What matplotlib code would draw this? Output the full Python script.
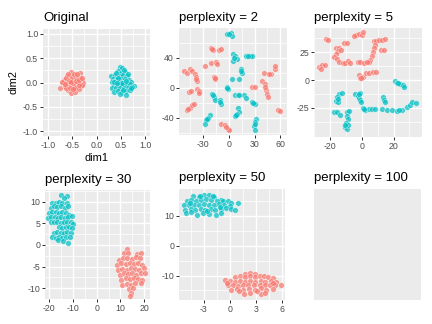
import matplotlib
matplotlib.use("Agg")
import matplotlib.pyplot as plt

plt.rcParams['font.family'] = ['Liberation Sans', 'DejaVu Sans']

RED = '#F8766D'
TEAL = '#00BFC4'

# ---- data: (x, y) embeddings for each class ----
orig_red = [(-0.76,-0.12),(-0.53,0.21),(-0.33,0.19),(-0.60,0.14),(-0.45,0.15),(-0.38,0.12),(-0.66,0.06),
            (-0.55,0.07),(-0.48,0.05),(-0.40,0.06),(-0.30,0.04),(-0.27,-0.01),(-0.68,-0.02),(-0.60,0.00),
            (-0.52,-0.01),(-0.44,0.00),(-0.36,-0.02),(-0.64,-0.08),(-0.56,-0.07),(-0.48,-0.08),(-0.40,-0.09),
            (-0.32,-0.08),(-0.58,-0.15),(-0.50,-0.16),(-0.42,-0.14),(-0.35,-0.14),(-0.53,-0.21),(-0.45,-0.20),
            (-0.62,0.10),(-0.50,0.12),(-0.42,0.09),(-0.34,0.10),(-0.57,0.03),(-0.46,-0.04),(-0.38,0.02),
            (-0.30,-0.05),(-0.70,0.02),(-0.62,-0.12),(-0.55,-0.11),(-0.44,-0.11),(-0.37,-0.06),(-0.47,0.18),
            (-0.58,0.18),(-0.40,0.17),(-0.52,0.02),(-0.43,0.04),(-0.65,-0.04),(-0.35,0.05),(-0.48,-0.13),
            (-0.29,0.09)]
orig_teal = [(0.48,0.31),(0.53,0.29),(0.44,0.24),(0.58,0.22),(0.50,0.20),(0.30,0.14),(0.38,0.15),(0.46,0.14),
             (0.55,0.15),(0.62,0.13),(0.34,0.08),(0.42,0.07),(0.50,0.08),(0.58,0.07),(0.66,0.06),(0.31,0.02),
             (0.39,0.01),(0.47,0.01),(0.55,0.00),(0.63,-0.01),(0.71,0.01),(0.36,-0.05),(0.44,-0.06),(0.52,-0.05),
             (0.60,-0.06),(0.68,-0.04),(0.78,-0.07),(0.31,-0.12),(0.40,-0.11),(0.48,-0.12),(0.56,-0.12),
             (0.64,-0.11),(0.72,-0.10),(0.37,-0.19),(0.45,-0.18),(0.53,-0.19),(0.61,-0.18),(0.68,-0.16),
             (0.60,-0.26),(0.49,-0.23),(0.41,0.20),(0.35,0.02),(0.57,0.26),(0.65,0.18),(0.52,-0.01),(0.45,0.10),
             (0.60,0.03),(0.70,-0.12),(0.42,-0.02),(0.55,-0.15)]

p2_red = [(-21.4,53.8),(-18.7,51.1),(-11.7,51.1),(-9.0,52.0),(-28.4,28.9),(-21.4,33.3),(-15.6,34.7),
          (-13.6,31.6),(-17.5,14.7),(-15.9,12.4),(-53.0,22.7),(-49.1,20.0),(-45.2,24.9),(-43.3,22.2),
          (-39.4,19.1),(-38.2,14.7),(-37.4,9.3),(-46.7,-5.3),(-44.8,-4.0),(-37.4,-0.9),(-35.4,-4.0),
          (-34.6,-6.2),(-48.7,-29.8),(-46.0,-26.7),(-42.9,-23.1),(-41.3,-20.9),(-9.0,-47.6),(-5.1,-48.9),
          (-1.2,-54.2),(0.0,-56.4),(26.9,1.3),(30.8,1.3),(39.0,9.3),(41.7,5.8),(43.6,-3.1),(44.8,-7.6),
          (45.6,-12.0),(40.5,20.4),(49.5,19.1),(53.4,25.8),(54.2,28.9),(57.3,-29.8),(60.0,-30.7),
          (-20.0,52.5),(-16.5,13.5),(-47.5,-28.0),(-3.0,-51.5),(42.5,1.5),(47.0,18.5),(-38.0,12.0)]
p2_teal = [(-1.9,71.6),(1.9,73.3),(3.5,69.0),(4.7,44.9),(7.4,42.2),(9.4,38.2),(4.7,35.6),(20.3,42.2),
           (24.2,43.1),(26.9,43.1),(13.6,25.8),(15.2,20.4),(3.5,11.6),(11.7,12.4),(-2.3,1.3),(-1.2,-0.9),
           (7.4,-8.9),(10.5,-8.9),(17.1,-9.8),(20.3,-12.9),(26.9,-18.7),(30.0,-21.8),(-19.5,-7.6),
           (-17.9,-12.0),(-16.8,-16.4),(-10.9,-15.6),(-9.0,-21.8),(10.5,-26.2),(11.3,-32.0),(9.7,-35.0),
           (6.6,-37.8),(-22.6,-36.4),(-24.5,-39.6),(-26.5,-43.0),(-28.4,-47.6),(31.2,-40.9),(30.0,-45.3),
           (29.2,-51.1),(30.8,-55.6),(0.5,72.0),(6.0,40.5),(22.0,42.5),(14.5,23.0),(-1.8,0.2),(12.0,-9.2),
           (28.5,-20.0),(-18.5,-9.5),(-10.0,-18.5),(8.5,-36.5),(-25.5,-41.0),(30.5,-48.0)]

p5_red = [(-22.7,37.0),(-21.2,36.1),(-26.9,12.0),(-25.2,13.5),(-23.2,13.5),(-25.9,9.9),(-16.4,28.6),
          (-14.3,29.2),(-15.3,26.2),(-16.4,23.2),(-17.5,21.0),(-16.0,18.7),(-14.3,16.5),(-12.2,15.1),
          (-10.5,15.1),(-9.0,17.1),(-7.6,15.1),(-11.2,33.1),(-9.5,33.1),(-3.8,40.6),(-2.1,41.2),(0.0,40.6),
          (0.4,43.0),(-2.7,16.0),(-1.3,16.5),(1.5,15.1),(-2.1,4.5),(-1.3,1.5),(0.4,3.0),(2.5,6.0),(7.4,35.5),
          (9.0,34.9),(11.0,36.1),(12.6,36.4),(14.3,37.3),(8.4,31.9),(7.8,28.9),(6.7,25.3),(6.3,21.4),
          (5.3,18.4),(4.2,16.0),(12.0,27.0),(14.0,27.0),(4.2,6.3),(6.7,6.9),(8.8,6.9),(-5.0,40.0),
          (-13.0,27.5),(3.0,16.5),(-0.5,2.0)]
p5_teal = [(20.6,-0.6),(22.1,-2.7),(24.2,-3.6),(25.7,-4.8),(26.3,-6.6),(13.2,-15.6),(13.7,-17.7),
           (14.3,-19.8),(-4.2,-12.9),(-2.7,-14.2),(-1.0,-11.7),(-1.7,-16.0),(-1.3,-18.3),(-0.6,-20.1),
           (0.4,-25.3),(2.1,-26.8),(4.2,-26.2),(6.3,-25.9),(12.8,-26.4),(15.6,-27.1),(18.7,-27.1),
           (21.9,-27.7),(25.0,-27.1),(28.2,-24.6),(30.3,-22.6),(31.3,-19.6),(33.9,-20.5),(-14.7,-12.9),
           (-12.8,-12.0),(-15.6,-15.1),(-16.4,-19.0),(-15.3,-20.1),(-17.5,-29.2),(-16.0,-29.2),
           (-13.7,-31.6),(-9.7,-29.2),(-8.4,-28.0),(-9.7,-32.2),(-9.0,-35.2),(-10.1,-39.1),(-10.5,-42.1),
           (-9.7,-44.2),(-9.0,-40.5),(-11.0,-41.0),(23.0,-3.0),(-2.0,-13.0),(-15.0,-17.0),(23.5,-27.5),
           (1.0,-26.0),(8.0,-26.0)]

p30_red = [(12.6,-1.0),(11.5,-1.9),(13.2,-1.8),(17.1,-2.1),(18.5,-1.9),(9.4,-3.5),(11.2,-3.1),(12.9,-3.1),
           (15.0,-3.3),(16.4,-2.9),(18.3,-3.1),(8.7,-4.6),(10.4,-4.2),(12.2,-4.4),(14.0,-4.1),(15.7,-4.4),
           (17.4,-4.2),(19.2,-4.6),(9.0,-5.8),(10.8,-5.6),(12.6,-5.8),(14.3,-5.4),(16.0,-5.6),(17.8,-5.8),
           (19.9,-5.4),(9.8,-6.9),(11.5,-6.6),(13.2,-6.7),(15.0,-6.6),(16.8,-6.9),(18.5,-6.6),(20.2,-6.4),
           (10.4,-8.1),(12.2,-7.7),(14.0,-7.9),(15.7,-7.7),(17.4,-7.9),(19.2,-8.1),(10.8,-9.2),(12.6,-9.0),
           (14.3,-9.2),(16.0,-8.9),(18.5,-8.7),(13.6,-10.2),(15.4,-10.0),(14.6,-11.2),(14.0,-11.8)]
p30_teal = [(-14.9,11.6),(-12.7,11.2),(-13.8,10.8),(-18.7,9.6),(-17.3,9.8),(-15.9,10.0),(-14.5,9.6),
            (-12.7,9.8),(-19.4,8.5),(-18.0,8.9),(-16.6,8.7),(-15.2,8.9),(-13.5,8.5),(-12.1,9.0),(-20.1,7.3),
            (-18.7,7.5),(-17.3,7.7),(-15.9,7.3),(-14.5,7.7),(-13.1,7.3),(-11.7,6.9),(-20.5,6.2),(-19.1,6.4),
            (-17.7,6.5),(-16.3,6.2),(-14.9,6.5),(-13.5,6.2),(-12.1,6.4),(-10.3,6.7),(-19.4,5.4),(-18.0,5.2),
            (-16.6,5.4),(-15.2,5.0),(-13.8,5.4),(-12.4,5.2),(-10.7,5.4),(-9.9,4.8),(-15.9,4.1),(-14.5,3.8),
            (-13.1,4.2),(-11.7,4.1),(-10.3,3.8),(-18.0,2.8),(-16.9,3.1),(-15.2,2.7),(-13.8,2.8),(-12.4,3.1),
            (-11.0,2.8),(-18.7,1.9),(-17.3,1.5),(-15.9,1.8),(-14.5,1.5),(-13.1,1.9),(-11.3,1.8),(-16.3,1.2),
            (-14.1,0.8),(-12.1,0.5)]

p50_red = [(1.68,-9.5),(2.25,-9.2),(2.90,-9.5),(0.53,-10.6),(1.11,-10.3),(1.68,-10.6),(2.25,-10.3),
           (2.83,-10.6),(3.40,-10.0),(3.90,-10.3),(4.35,-10.6),(4.93,-10.9),(-0.61,-11.4),(-0.04,-11.7),
           (0.53,-12.0),(1.11,-11.7),(1.68,-12.0),(2.25,-11.7),(2.90,-12.0),(3.51,-11.7),(4.05,-12.0),
           (4.66,-11.7),(5.31,-12.0),(-0.23,-13.3),(0.34,-13.1),(0.92,-13.6),(1.49,-13.1),(2.06,-13.3),
           (2.75,-13.1),(3.40,-13.3),(3.97,-13.1),(4.55,-13.3),(5.19,-13.1),(5.81,-13.3),(0.15,-14.8),
           (0.84,-14.4),(1.49,-14.8),(2.14,-14.4),(2.83,-14.8),(3.51,-14.2),(4.16,-14.8),(4.93,-14.4),
           (1.60,-16.2),(2.25,-15.9),(3.59,-16.2),(4.05,-15.9),(1.0,-15.2),(3.1,-15.3),(-0.3,-12.5),
           (4.9,-12.6)]
p50_teal = [(-4.24,16.7),(-3.59,16.2),(-2.98,17.1),(-2.45,17.1),(-1.83,16.2),(-0.99,15.4),(-4.89,15.1),
            (-4.43,15.4),(-3.86,15.1),(-3.29,15.4),(-2.71,15.7),(-2.14,15.4),(-1.45,14.9),(-0.80,14.9),
            (-0.23,15.1),(0.15,14.3),(0.92,14.4),(-5.27,13.8),(-4.74,13.5),(-4.13,13.8),(-3.59,13.5),
            (-2.98,14.0),(-2.45,13.8),(-1.83,13.5),(-1.30,14.0),(-0.69,13.5),(-0.04,13.2),(-5.12,12.1),
            (-4.51,12.4),(-3.97,12.1),(-3.36,12.4),(-2.83,12.1),(-2.22,12.4),(-1.68,12.0),(-1.07,12.3),
            (-0.42,12.6),(0.15,12.4),(0.61,11.8),(-5.0,11.0),(-4.43,11.3),(-3.74,10.4),(-3.10,11.0),
            (-2.45,10.6),(-1.57,10.4),(-0.99,11.0),(-2.0,16.6),(-3.4,16.8),(-1.2,12.9),(-4.6,14.4),
            (-2.6,11.5)]

# ---- axis breaks ----
orig_breaks = [-1.0, -0.5, 0.0, 0.5, 1.0]
orig_labels = ['-1.0', '-0.5', '0.0', '0.5', '1.0']
p2_xbreaks, p2_ybreaks = [-30, 0, 30, 60], [-40, 0, 40]
p5_xbreaks, p5_ybreaks = [-20, 0, 20], [-25, 0, 25]
p30_xbreaks, p30_ybreaks = [-20, -10, 0, 10, 20], [-10, -5, 0, 5, 10]
p50_xbreaks, p50_ybreaks = [-3, 0, 3, 6], [-10, 0, 10]

W, H = 432, 324
fig = plt.figure(figsize=(W / 72, H / 72), dpi=72)


def panel(l, t, r, b):
    return fig.add_axes([l / W, 1 - b / H, (r - l) / W, (b - t) / H])


def minor_between(breaks, lim):
    step = breaks[1] - breaks[0]
    cands = [breaks[0] - step / 2] + [v + step / 2 for v in breaks]
    return [c for c in cands if lim[0] <= c <= lim[1]]


def style(ax, title, xlim, ylim, xb=None, yb=None, xlab=None, ylab=None):
    ax.set_facecolor('#EBEBEB')
    for s in ax.spines.values():
        s.set_visible(False)
    ax.set_xlim(xlim)
    ax.set_ylim(ylim)
    ax.set_title(title, loc='left', fontsize=13.2, pad=7.5, color='black')
    if xb is None:
        ax.set_xticks([])
        ax.set_yticks([])
        return
    ax.set_xticks(xb)
    ax.set_yticks(yb)
    ax.set_xticklabels(xlab if xlab else [f'{v:g}' for v in xb])
    ax.set_yticklabels(ylab if ylab else [f'{v:g}' for v in yb])
    ax.set_xticks(minor_between(xb, xlim), minor=True)
    ax.set_yticks(minor_between(yb, ylim), minor=True)
    ax.grid(which='major', color='white', lw=1.4)
    ax.grid(which='minor', color='white', lw=0.7)
    ax.set_axisbelow(True)
    ax.tick_params(which='major', length=2.75, width=1.0, color='#333333',
                   labelsize=8.8, labelcolor='#4D4D4D', pad=2.2)
    ax.tick_params(which='minor', length=0)


def points(ax, pts, color):
    xs = [p[0] for p in pts]
    ys = [p[1] for p in pts]
    ax.scatter(xs, ys, s=32, c=color, alpha=0.72, edgecolors='white',
               linewidths=0.5, zorder=3)


ax1 = panel(43, 29, 150, 136)
style(ax1, 'Original', (-1.1, 1.1), (-1.1, 1.1), orig_breaks, orig_breaks, orig_labels, orig_labels)
points(ax1, orig_red, RED)
points(ax1, orig_teal, TEAL)
ax1.set_xlabel('dim1', fontsize=11, labelpad=2.75)
ax1.set_ylabel('dim2', fontsize=11, labelpad=4)

ax2 = panel(179, 28, 287, 135)
style(ax2, 'perplexity = 2', (-58.4, 67.8), (-62.7, 80), p2_xbreaks, p2_ybreaks)
points(ax2, p2_red, RED)
points(ax2, p2_teal, TEAL)

ax3 = panel(314, 28, 422, 137)
style(ax3, 'perplexity = 5', (-30.3, 37.9), (-51.4, 46.9), p5_xbreaks, p5_ybreaks)
points(ax3, p5_red, RED)
points(ax3, p5_teal, TEAL)

ax4 = panel(45, 190, 150, 299)
style(ax4, 'perplexity = 30', (-21.8, 22.5), (-12.5, 12.7), p30_xbreaks, p30_ybreaks)
points(ax4, p30_red, RED)
points(ax4, p30_teal, TEAL)

ax5 = panel(179, 189, 285, 300)
style(ax5, 'perplexity = 50', (-5.84, 6.3), (-18.2, 19.0), p50_xbreaks, p50_ybreaks)
points(ax5, p50_red, RED)
points(ax5, p50_teal, TEAL)

ax6 = panel(314, 189, 421, 300)
style(ax6, 'perplexity = 100', (0, 1), (0, 1))

fig.savefig('out.png', dpi=72)
